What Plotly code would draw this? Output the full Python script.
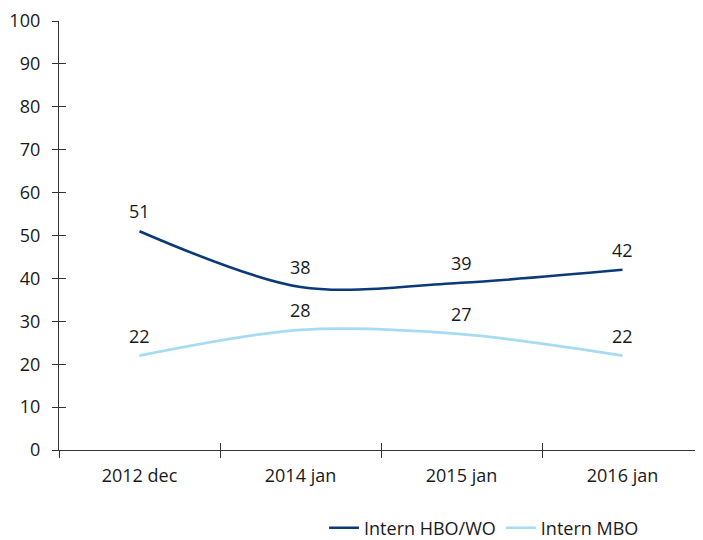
import plotly.graph_objects as go

# Data
categories = ['2012 dec', '2014 jan', '2015 jan', '2016 jan']
hbo_wo = [51, 38, 39, 42]
mbo = [22, 28, 27, 22]

font_family = 'Open Sans, DejaVu Sans, sans-serif'
text_color = '#1a1a1a'

fig = go.Figure()

series = [('Intern HBO/WO', hbo_wo, '#0b3a78'), ('Intern MBO', mbo, '#a6dbf3')]
for name, vals, color in series:
    fig.add_trace(go.Scatter(
        x=categories, y=vals, name=name, mode='lines',
        line=dict(color=color, width=2.6, shape='spline', smoothing=0.9),
    ))
    # waardelabels boven de punten
    for cat, v in zip(categories, vals):
        fig.add_annotation(x=cat, y=v, text=str(v), showarrow=False, yshift=20,
                           font=dict(size=18, color=text_color))

# extra assen alleen voor de binnenkant van de kruisende streepjes
fig.add_trace(go.Scatter(x=categories, y=[None] * len(categories), xaxis='x2', yaxis='y2',
                         showlegend=False, hoverinfo='skip'))

# pagina heeft 8px body-marge, daarom 695x532
fig.update_layout(
    width=695, height=532,
    margin=dict(l=51, r=0, t=13, b=90, autoexpand=False),
    plot_bgcolor='white', paper_bgcolor='white',
    font=dict(family=font_family, size=18, color=text_color),
    showlegend=True,
    legend=dict(orientation='h', x=0.66, xanchor='center', y=-0.182, yanchor='middle',
                font=dict(size=18), itemwidth=30, tracegroupgap=0),
    xaxis=dict(type='category', range=[-0.5, 3.5], tickson='boundaries', automargin=False,
               ticks='outside', ticklen=7, tickcolor='#333', tickwidth=1,
               showline=True, linecolor='#333', linewidth=1.3, showgrid=False,
               tickfont=dict(size=18), ticklabelstandoff=9),
    xaxis2=dict(type='category', range=[-0.5, 3.5], tickson='boundaries', overlaying='x',
                side='bottom', ticks='inside', ticklen=7, tickcolor='#333', tickwidth=1,
                showticklabels=False, showgrid=False, showline=False, automargin=False),
    yaxis=dict(range=[0, 100], dtick=10, ticks='outside', ticklen=6, tickcolor='#333',
               showline=True, linecolor='#333', linewidth=1.3, showgrid=False, automargin=False,
               zeroline=False, tickfont=dict(size=18), ticklabelstandoff=8),
    yaxis2=dict(range=[0, 100], dtick=10, overlaying='y', side='left', ticks='inside',
                ticklen=7, tickcolor='#333', showticklabels=False, showgrid=False,
                zeroline=False, showline=False, automargin=False),
)

fig.write_html("out.html")
